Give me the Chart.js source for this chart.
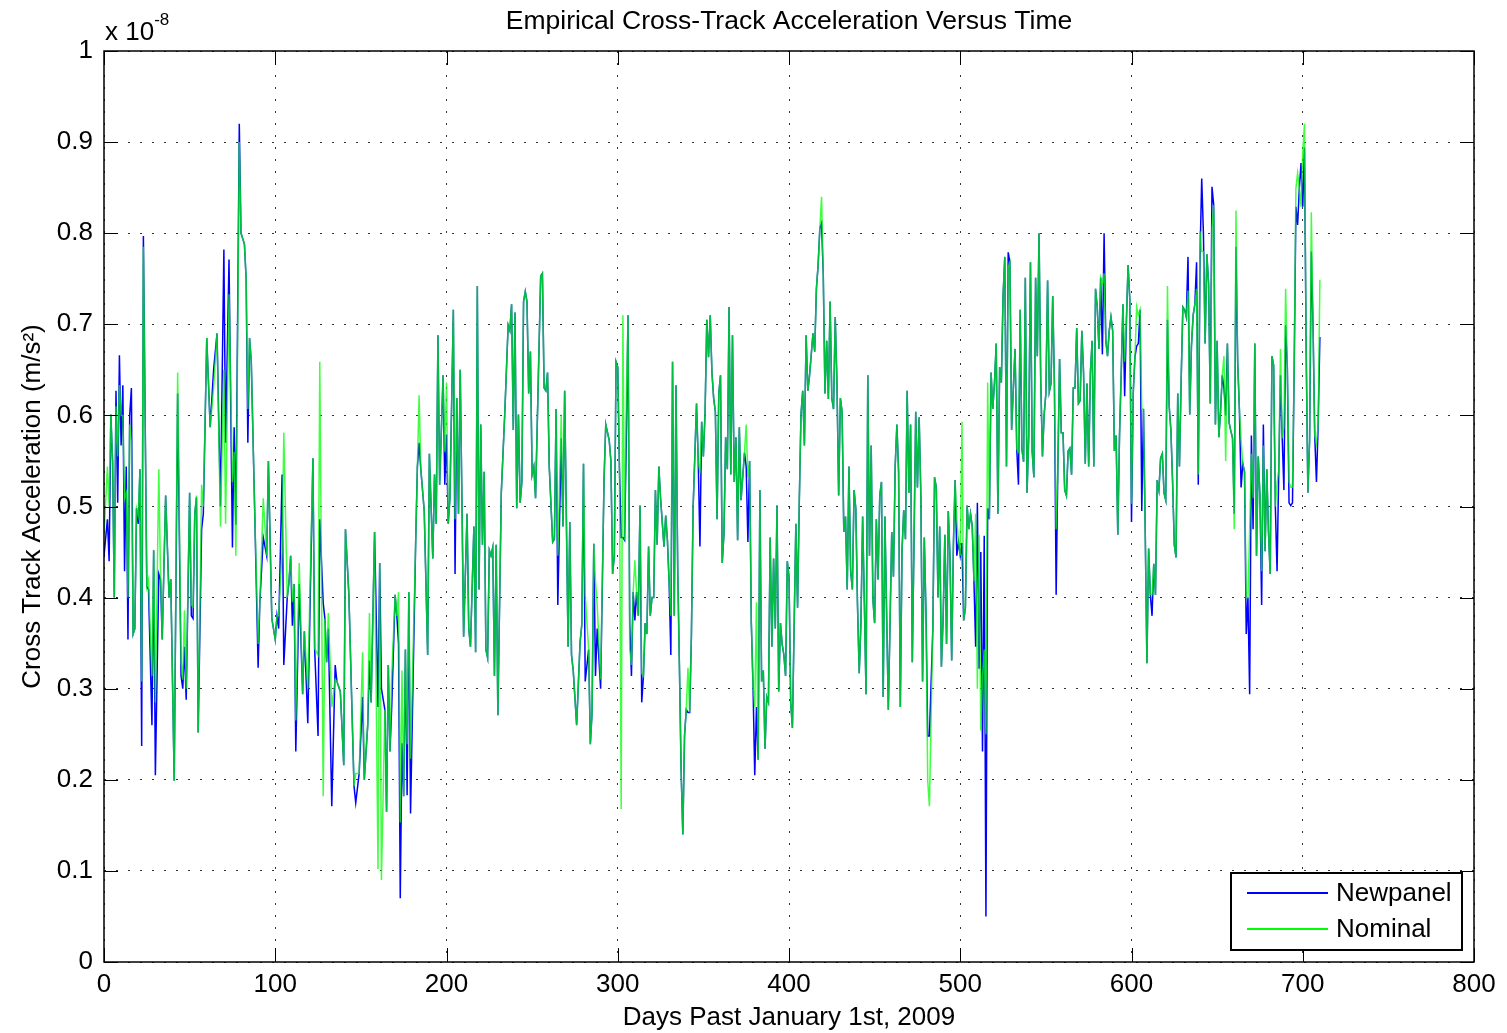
<!DOCTYPE html>
<html>
<head>
<meta charset="utf-8">
<script src="https://cdn.jsdelivr.net/npm/chart.js@4.4.1/dist/chart.umd.min.js"></script>
<style>
  body { margin: 0; background: #fff; }
  #wrap { width: 1507px; height: 1033px; }
</style>
</head>
<body>
<div id="wrap"><canvas id="accelChart" width="1507" height="1033"></canvas></div>
<script>
// sample days (days past 2009-01-01), shared by both solutions
let days = [
  0,2,3,4,5,6,7,8,9,10, 11,12,13,14,15,16,17,18,19,20, 21,22,23,25,26,28,29,30,32,33,
  34,36,38,39,41,43,45,46,47,48, 50,51,52,53,54,55,57,58,60,62, 64,66,68,70,71,73,
  75,76,77,79,80,82,83,84,85,86, 88,90,91,93,95,96,98,100,101,102, 104,105,107,108,109,110,111,112,114,116,
  117,119,122,123,125,126,128,129,130,131, 133,135,136,138,140,141,143,
  146,147,149,151,152,154,155,156,158,160, 161,162,164,165,166,167,168,170,171,172, 173,174,175,176,177,178,179,182,183,184,
  185,187,189,190,192,193,194,195,196,198, 199,200,201,202,204,205,206,207,208,209, 210,212,213,214,216,217,218,219,
  220,221,222,223,224,225,226,227,228,229, 230,232,234,236,237,238,239,240,241,242, 243,244,245,246,247,248,249,250,251,252,
  255,256,257,258,259,260,262,263,264,265, 267,268,269,271,272,273,274,276,278,279, 280,281,283,284,285,286,287,288,290,
  292,293,295,296,297,298,299,300,301,302, 303,304,305,306,307,308,309,310,311,312, 313,314,315,316,317,318,319,320,321,322,
  323,324,325,327,328,329,330,331,332,333, 334,335,336,337,338,339,340,341,342,343, 344,345,346,347,348,349,350,351,352,353,
  354,355,356,357,358,359,360,361,362,363, 364,365,
  366,367,368,369,370,371,372,374,375,376, 377,378,379,380,381,382,383,384,385,386, 387,388,389,390,391,392,393,394,395,396,
  397,398,399,400,401,402,404,405,406,407, 408,409,410,411,412,414,415,416,417,418, 419,420,421,422,423,424,425,426,427,428,
  429,430,431,432,433,434,435,436,437,438,
  439,440,441,442,443,444,445,446,447,448, 449,450,451,452,453,454,455,456,458,459, 460,461,462,463,464,465,466,467,468,469,
  470,471,472,473,474,475,476,477,478,479, 480,481,482,484,485,486,487,488,489,490, 491,492,493,494,495,496,497,498,499,500,
  501,502,503,504,505,506,507,508,
  509,510,511,512,513,514,515,516,517,518, 519,520,521,522,523,524,525,526,527,528, 529,530,531,532,533,534,535,536,537,538,
  539,540,541,542,543,544,545,546,547,548, 549,550,551,552,553,554,555,556,557,558, 559,560,561,562,563,564,565,566,567,568,
  569,570,571,572,573,574,575,576,577,578, 579,580,581,582,
  583,584,585,586,587,588,589,590,591,592, 593,594,595,596,597,598,599,600,601,602, 603,604,605,606,607,608,609,610,611,612,
  613,614,615,616,617,618,619,620,621,622, 623,624,625,626,627,628,629,630,631,632, 633,634,635,636,637,638,639,640,641,642,
  643,644,645,646,647,648,649,650,651,652, 653,
  654,655,656,657,658,659,660,661,662,663, 664,665,666,667,668,669,670,671,672,673, 674,675,676,677,678,679,680,681,682,683,
  684,685,686,687,688,689,690,691,692,693, 694,695,696,697,698,699,700,701,702,703, 704,705,706,707,708,709,710
];

// cross-track acceleration, units of 1e-8 m/s^2
let newpanel = [
  .446,.486,.440,.601,.550,.400,.627,.504,.666,.567, .633,.429,.544,.354,.600,.630,.360,.366,.498,.481, .541,.237,.797,.412,.409,.260,.452,.205,.426,.420,
  .354,.512,.400,.420,.199,.624,.314,.300,.346,.288, .515,.380,.377,.492,.510,.252,.475,.492,.685,.587, .650,.690,.500,.782,.570,.771,
  .455,.587,.480,.920,.800,.788,.750,.570,.685,.659, .495,.323,.395,.466,.446,.550,.377,.354,.380,.366, .535,.326,.400,.417,.446,.369,.415,.231,.415,.294,
  .363,.262,.553,.344,.248,.486,.394,.377,.329,.366, .171,.326,.308,.297,.216,.475,.403,
  .193,.175,.207,.291,.200,.260,.331,.285,.472,.280, .438,.300,.277,.165,.326,.231,.280,.403,.380,.349, .070,.240,.182,.343,.183,.406,.163,.461,.544,.570,
  .541,.495,.337,.558,.443,.535,.481,.688,.524,.644, .524,.579,.481,.509,.716,.426,.619,.492,.650,.509, .357,.492,.366,.346,.478,.340,.742,.409,
  .590,.458,.538,.343,.334,.452,.446,.455,.314,.458, .271,.515,.601,.699,.693,.722,.584,.713,.498,.601, .504,.527,.725,.736,.725,.624,.670,.535,.544,.509,
  .753,.756,.630,.627,.647,.544,.461,.464,.607,.392, .575,.478,.627,.346,.483,.337,.320,.260,.351,.370, .547,.308,.343,.239,.274,.459,.314,.366,.300,
  .530,.590,.573,.550,.426,.446,.659,.653,.541,.466, .466,.463,.573,.710,.372,.314,.406,.375,.406,.380, .501,.285,.314,.372,.360,.456,.380,.400,.400,.518,
  .458,.544,.509,.456,.490,.463,.417,.337,.659,.380, .633,.434,.326,.211,.140,.248,.277,.274,.274,.357, .498,.555,.613,.550,.456,.593,.555,.604,.705,.664,
  .710,.647,.619,.604,.486,.624,.644,.438,.469,.576, .541,.719,
  .535,.688,.527,.576,.463,.587,.507,.559,.544,.461, .550,.372,.303,.205,.280,.222,.518,.308,.320,.234, .291,.285,.466,.346,.443,.366,.501,.297,.372,.349,
  .337,.314,.440,.423,.285,.257,.481,.389,.504,.601, .627,.567,.688,.627,.644,.690,.670,.739,.765,.805, .811,.756,.624,.682,.618,.725,.619,.607,.708,.636,
  .512,.619,.604,.472,.489,.409,.544,.429,.409,.518,
  .498,.392,.317,.372,.489,.395,.294,.644,.446,.567, .398,.372,.486,.420,.512,.527,.291,.489,.277,.372, .472,.423,.544,.590,.538,.280,.452,.496,.464,.627,
  .515,.590,.329,.461,.604,.521,.598,.512,.308,.466, .383,.248,.248,.366,.532,.521,.400,.478,.324,.377, .469,.349,.495,.446,.331,.458,.529,.446,.461,.446,
  .460,.375,.389,.501,.475,.492,.478,.418,
  .346,.504,.322,.450,.231,.468,.050,.498,.486,.647, .607,.636,.679,.492,.653,.636,.731,.774,.544,.779, .768,.584,.630,.673,.563,.524,.716,.563,.549,.751,
  .515,.578,.768,.561,.532,.751,.665,.800,.639,.555, .601,.624,.748,.626,.635,.731,.633,.403,.544,.662, .581,.581,.518,.512,.561,.564,.535,.630,.630,.696,
  .613,.616,.693,.647,.547,.635,.544,.647,.682,.544, .739,.719,.673,.751,
  .667,.800,.682,.665,.693,.708,.693,.561,.578,.469, .578,.647,.722,.621,.702,.765,.728,.483,.624,.664, .676,.679,.716,.495,.607,.475,.328,.454,.403,.380,
  .437,.403,.529,.518,.553,.558,.515,.507,.705,.610, .584,.527,.458,.444,.624,.544,.639,.719,.716,.708, .774,.601,.676,.710,.722,.768,.524,.774,.860,.800,
  .679,.777,.745,.613,.851,.831,.590,.682,.576,.604, .644,
  .630,.600,.679,.592,.583,.575,.492,.785,.659,.607, .521,.547,.538,.360,.400,.294,.578,.475,.679,.446, .555,.512,.392,.590,.451,.541,.471,.426,.665,.655,
  .500,.429,.540,.644,.575,.518,.699,.652,.504,.501, .504,.652,.829,.809,.849,.877,.829,.894,.672,.515, .573,.780,.699,.578,.527,.590,.686
];

let nominal = [
  .469,.544,.500,.601,.550,.400,.610,.555,.633,.600, .600,.509,.515,.400,.590,.570,.360,.366,.498,.490, .541,.308,.785,.412,.420,.314,.452,.285,.541,.426,
  .354,.512,.400,.420,.199,.647,.331,.310,.386,.300, .515,.392,.390,.492,.512,.252,.524,.500,.685,.587, .630,.690,.478,.650,.481,.733,
  .527,.560,.446,.900,.800,.788,.750,.607,.685,.659, .495,.349,.395,.509,.446,.550,.377,.354,.380,.380, .450,.581,.400,.417,.446,.395,.415,.265,.438,.294,
  .363,.300,.553,.344,.337,.659,.182,.377,.329,.383, .280,.310,.308,.297,.216,.475,.403,
  .193,.207,.207,.340,.200,.260,.383,.285,.472,.102, .438,.090,.277,.165,.326,.231,.314,.403,.380,.406, .153,.320,.182,.343,.239,.406,.223,.461,.544,.622,
  .541,.495,.337,.558,.443,.535,.481,.688,.524,.644, .560,.636,.481,.509,.716,.486,.619,.492,.650,.509, .357,.492,.366,.346,.478,.340,.742,.409,
  .590,.458,.538,.343,.334,.452,.446,.455,.314,.458, .271,.515,.601,.699,.693,.722,.584,.713,.498,.601, .504,.527,.725,.736,.725,.624,.670,.535,.544,.509,
  .753,.756,.630,.627,.647,.544,.461,.464,.607,.446, .601,.478,.627,.346,.483,.337,.320,.260,.351,.370, .547,.404,.343,.239,.274,.459,.418,.392,.310,
  .530,.590,.573,.550,.426,.446,.659,.653,.541,.168, .710,.463,.616,.710,.343,.326,.406,.441,.406,.380, .501,.317,.314,.372,.360,.456,.380,.400,.400,.518,
  .458,.544,.509,.456,.490,.463,.417,.380,.659,.380, .633,.434,.326,.211,.140,.248,.277,.323,.274,.357, .498,.555,.613,.550,.537,.593,.555,.604,.705,.664,
  .710,.647,.619,.604,.486,.624,.644,.438,.469,.576, .541,.719,
  .535,.688,.527,.576,.463,.587,.507,.559,.590,.532, .550,.372,.303,.280,.395,.222,.518,.308,.320,.234, .291,.285,.466,.346,.443,.366,.501,.297,.372,.349,
  .337,.314,.440,.423,.285,.257,.481,.389,.504,.601, .627,.567,.688,.627,.644,.690,.670,.739,.765,.805, .840,.756,.624,.682,.618,.725,.619,.607,.708,.636,
  .512,.619,.604,.472,.489,.409,.544,.429,.409,.518,
  .498,.392,.317,.372,.489,.395,.294,.644,.446,.567, .398,.372,.486,.420,.512,.527,.291,.489,.277,.372, .472,.423,.544,.590,.538,.280,.452,.496,.464,.627,
  .515,.590,.329,.461,.604,.521,.598,.512,.308,.466, .383,.199,.171,.366,.532,.521,.400,.478,.324,.377, .469,.349,.495,.446,.331,.458,.529,.486,.461,.446,
  .593,.375,.389,.501,.475,.492,.478,.418,
  .492,.300,.469,.254,.314,.343,.250,.636,.486,.647, .607,.636,.679,.492,.653,.636,.731,.774,.544,.762, .768,.584,.630,.673,.563,.560,.716,.563,.549,.751,
  .515,.578,.768,.561,.532,.751,.665,.800,.639,.555, .601,.624,.748,.626,.635,.731,.633,.475,.544,.662, .581,.581,.518,.512,.561,.564,.535,.630,.630,.696,
  .613,.616,.693,.647,.547,.635,.544,.647,.682,.544, .739,.719,.673,.751,
  .745,.756,.682,.665,.693,.708,.693,.561,.578,.469, .578,.647,.722,.659,.702,.765,.728,.503,.624,.664, .719,.710,.716,.607,.607,.475,.328,.454,.403,.403,
  .437,.403,.529,.518,.553,.558,.515,.507,.742,.610, .584,.527,.458,.444,.624,.544,.639,.719,.716,.708, .737,.601,.676,.710,.722,.739,.535,.802,.780,.780,
  .679,.777,.745,.613,.805,.831,.590,.682,.576,.604, .644,
  .665,.550,.679,.592,.583,.575,.475,.825,.659,.607, .573,.547,.538,.400,.400,.475,.558,.509,.679,.446, .555,.512,.429,.567,.451,.541,.471,.426,.665,.655,
  .500,.526,.540,.673,.575,.587,.739,.652,.527,.521, .521,.652,.849,.866,.849,.829,.889,.920,.672,.515, .573,.823,.699,.578,.569,.590,.749
];

let xTicks = [0, 100, 200, 300, 400, 500, 600, 700, 800];
let yTicks = [0, 0.1, 0.2, 0.3, 0.4, 0.5, 0.6, 0.7, 0.8, 0.9, 1];
let seriesNames = ['Newpanel', 'Nominal'];
let seriesColors = ['#0000ff', '#00ff00'];

const FONT = '"Liberation Sans", Arial, sans-serif';

function toPoints(vals) {
    return days.map(function(d, i) { return { x: d, y: vals[i] }; });
}

// box, inward ticks, title, exponent and legend, drawn the MATLAB way
const axesDecor = {
    id: 'axesDecor',
    afterDraw(chart) {
        const ctx = chart.ctx;
        const a = chart.chartArea;
        const xs = chart.scales.x;
        const ys = chart.scales.y;
        ctx.save();

        ctx.strokeStyle = '#000';
        ctx.lineWidth = 1;
        ctx.beginPath();
        xTicks.forEach(function(v) {
            const px = Math.round(xs.getPixelForValue(v)) + 0.5;
            ctx.moveTo(px, a.bottom); ctx.lineTo(px, a.bottom - 14);
            ctx.moveTo(px, a.top); ctx.lineTo(px, a.top + 14);
        });
        yTicks.forEach(function(v) {
            const py = Math.round(ys.getPixelForValue(v)) + 0.5;
            ctx.moveTo(a.left, py); ctx.lineTo(a.left + 14, py);
            ctx.moveTo(a.right, py); ctx.lineTo(a.right - 14, py);
        });
        ctx.stroke();

        ctx.lineWidth = 1.5;
        ctx.strokeRect(a.left, a.top, a.right - a.left, a.bottom - a.top);

        ctx.fillStyle = '#000';
        ctx.textBaseline = 'middle';
        ctx.textAlign = 'center';
        ctx.font = '26.5px ' + FONT;
        ctx.fillText('Empirical Cross-Track Acceleration Versus Time', (a.left + a.right) / 2, 22);

        ctx.textAlign = 'left';
        ctx.textBaseline = 'alphabetic';
        ctx.font = '26px ' + FONT;
        ctx.fillText('x 10', a.left + 1, 40);
        const w = ctx.measureText('x 10').width;
        ctx.font = '17px ' + FONT;
        ctx.fillText('-8', a.left + 1 + w, 25);

        // legend box in the lower right corner
        const bx = 1231, by = 873, bw = 231, bh = 77;
        ctx.fillStyle = '#fff';
        ctx.fillRect(bx, by, bw, bh);
        ctx.lineWidth = 2;
        ctx.strokeStyle = '#000';
        ctx.strokeRect(bx, by, bw, bh);
        ctx.font = '26px ' + FONT;
        ctx.textBaseline = 'middle';
        seriesNames.forEach(function(name, i) {
            const ly = by + 20 + i * 36;
            ctx.strokeStyle = seriesColors[i];
            ctx.lineWidth = 2;
            ctx.beginPath();
            ctx.moveTo(bx + 16, ly);
            ctx.lineTo(bx + 97, ly);
            ctx.stroke();
            ctx.fillStyle = '#000';
            ctx.fillText(name, bx + 105, ly + 1);
        });
        ctx.restore();
    }
};

const ctx = document.getElementById('accelChart').getContext('2d');
const accelChart = new Chart(ctx, {
    type: 'line',
    data: {
        datasets: [
            {
                label: seriesNames[0],
                data: toPoints(newpanel),
                borderColor: seriesColors[0],
                borderWidth: 1.5,
                pointRadius: 0,
                tension: 0,
                order: 1
            },
            {
                label: seriesNames[1],
                data: toPoints(nominal),
                borderColor: 'rgba(0, 255, 0, 0.75)',
                borderWidth: 1.5,
                pointRadius: 0,
                tension: 0,
                order: 0
            }
        ]
    },
    options: {
        responsive: false,
        animation: false,
        layout: { padding: { left: 0, right: 33, top: 51, bottom: 0 } },
        plugins: {
            legend: { display: false },
            title: { display: false },
            tooltip: { enabled: false }
        },
        scales: {
            x: {
                type: 'linear',
                min: 0,
                max: 800,
                afterBuildTicks: function(scale) {
                    scale.ticks = xTicks.map(function(v) { return { value: v }; });
                },
                afterFit: function(scale) { scale.height = 71; },
                ticks: {
                    color: '#000',
                    font: { family: FONT, size: 26 },
                    padding: 7,
                    maxRotation: 0
                },
                grid: { color: 'rgba(0,0,0,0.8)', lineWidth: 1, drawTicks: false },
                border: { display: false, dash: [2, 10] },
                title: {
                    display: true,
                    text: 'Days Past January 1st, 2009',
                    color: '#000',
                    font: { family: FONT, size: 26 },
                    padding: { top: 0, bottom: 0 }
                }
            },
            y: {
                type: 'linear',
                min: 0,
                max: 1,
                afterBuildTicks: function(scale) {
                    scale.ticks = yTicks.map(function(v) { return { value: v }; });
                },
                afterFit: function(scale) { scale.width = 104; },
                ticks: {
                    color: '#000',
                    font: { family: FONT, size: 26 },
                    padding: 11,
                    callback: function(v) { return (v === 0 || v === 1) ? String(v) : v.toFixed(1); }
                },
                grid: { color: 'rgba(0,0,0,0.8)', lineWidth: 1, drawTicks: false },
                border: { display: false, dash: [2, 10] },
                title: {
                    display: true,
                    text: 'Cross Track Acceleration (m/s\u00b2)',
                    color: '#000',
                    font: { family: FONT, size: 26 },
                    padding: { top: 17, bottom: 0 }
                }
            }
        }
    },
    plugins: [axesDecor]
});
</script>
</body>
</html>
